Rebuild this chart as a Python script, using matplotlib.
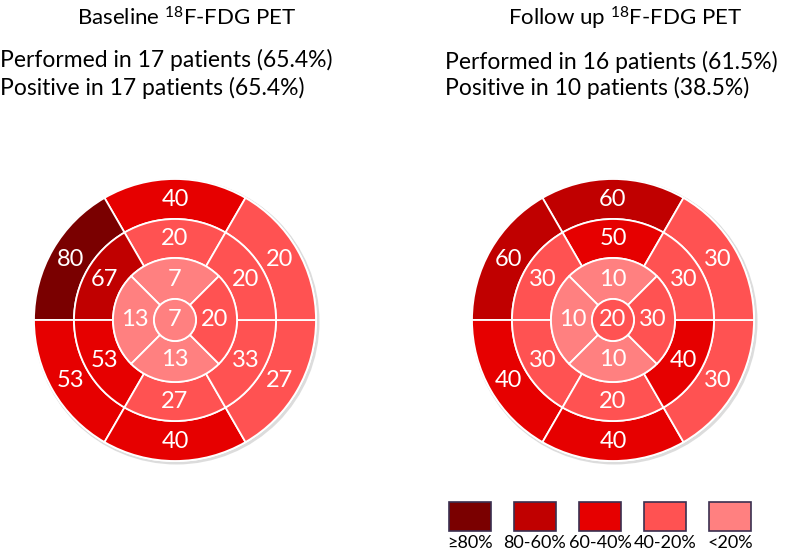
import math
import matplotlib.pyplot as plt
from matplotlib.patches import Wedge, Circle, Rectangle

plt.rcParams['font.family'] = ['Lato', 'DejaVu Sans']
plt.rcParams['mathtext.default'] = 'regular'

# segment values (% of patients), order: top, upper-left, lower-left, bottom, lower-right, upper-right
base_basal = [40, 80, 53, 40, 27, 20]
base_mid = [20, 67, 53, 27, 33, 20]
# apical order: top, left, bottom, right
base_apical = [7, 13, 13, 20]
base_apex = 7

fu_basal = [60, 60, 40, 40, 30, 30]
fu_mid = [50, 30, 30, 20, 40, 30]
fu_apical = [10, 10, 10, 30]
fu_apex = 20

legend_labels = ['\u226580%', '80-60%', '60-40%', '40-20%', '<20%']
legend_colors = ['#7A0000', '#C00000', '#E60000', '#FF5252', '#FF8080']

W, H = 787, 554


def color_for(v):
    if v >= 80:
        return legend_colors[0]
    if v >= 60:
        return legend_colors[1]
    if v >= 40:
        return legend_colors[2]
    if v >= 20:
        return legend_colors[3]
    return legend_colors[4]


def bullseye(ax, cx, cy, basal, mid, apical, apex):
    r1, r2, r3, r4 = 141, 101, 62, 21
    fs = 17
    # soft shadow
    ax.add_patch(Circle((cx + 1.5, cy - 1.5), r1 + 2, color='#bbbbbb', alpha=0.5, lw=0))
    ax.add_patch(Circle((cx, cy), r1 + 1, color='white', lw=0))
    six = [60, 120, 180, 240, 300, 0]
    for ring, (ro, ri) in zip([basal, mid], [(r1, r2), (r2, r3)]):
        rt = (ro + ri) / 2
        for a0, v in zip(six, ring):
            ax.add_patch(Wedge((cx, cy), ro, a0, a0 + 60, width=ro - ri,
                               facecolor=color_for(v), edgecolor='white', lw=1.3))
            am = math.radians(a0 + 30)
            ax.text(cx + rt * math.cos(am), cy + rt * math.sin(am), str(v),
                    color='white', fontsize=fs, ha='center', va='center')
    four = [45, 135, 225, 315]
    for a0, v in zip(four, apical):
        ax.add_patch(Wedge((cx, cy), r3, a0, a0 + 90, width=r3 - r4,
                           facecolor=color_for(v), edgecolor='white', lw=1.3))
        am = math.radians(a0 + 45)
        ax.text(cx + 40 * math.cos(am), cy + 40 * math.sin(am), str(v),
                color='white', fontsize=fs, ha='center', va='center')
    ax.add_patch(Circle((cx, cy), r4, facecolor=color_for(apex), edgecolor='white', lw=1.3))
    ax.text(cx, cy, str(apex), color='white', fontsize=fs, ha='center', va='center')


fig = plt.figure(figsize=(W / 100, H / 100), dpi=100)
ax = fig.add_axes([0, 0, 1, 1])
ax.set_xlim(0, W)
ax.set_ylim(0, H)
ax.axis('off')

bullseye(ax, 175, H - 320, base_basal, base_mid, base_apical, base_apex)
bullseye(ax, 613, H - 320, fu_basal, fu_mid, fu_apical, fu_apex)

ax.text(187, H - 18, 'Baseline $^{18}$F-FDG PET', fontsize=16, ha='center', va='center')
ax.text(0, H - 60, 'Performed in 17 patients (65.4%)', fontsize=16.5, ha='left', va='center')
ax.text(0, H - 88, 'Positive in 17 patients (65.4%)', fontsize=16.5, ha='left', va='center')

ax.text(625, H - 18, 'Follow up $^{18}$F-FDG PET', fontsize=16, ha='center', va='center')
ax.text(445, H - 62, 'Performed in 16 patients (61.5%)', fontsize=16.5, ha='left', va='center')
ax.text(445, H - 88, 'Positive in 10 patients (38.5%)', fontsize=16.5, ha='left', va='center')

for i, (lab, col) in enumerate(zip(legend_labels, legend_colors)):
    x = 470 + 65 * i
    ax.add_patch(Rectangle((x - 21, H - 531), 42, 29, facecolor=col,
                           edgecolor='#3A3050', lw=1.2))
    ax.text(x, H - 543, lab, fontsize=13, ha='center', va='center')

fig.savefig('out.png', dpi=100)
